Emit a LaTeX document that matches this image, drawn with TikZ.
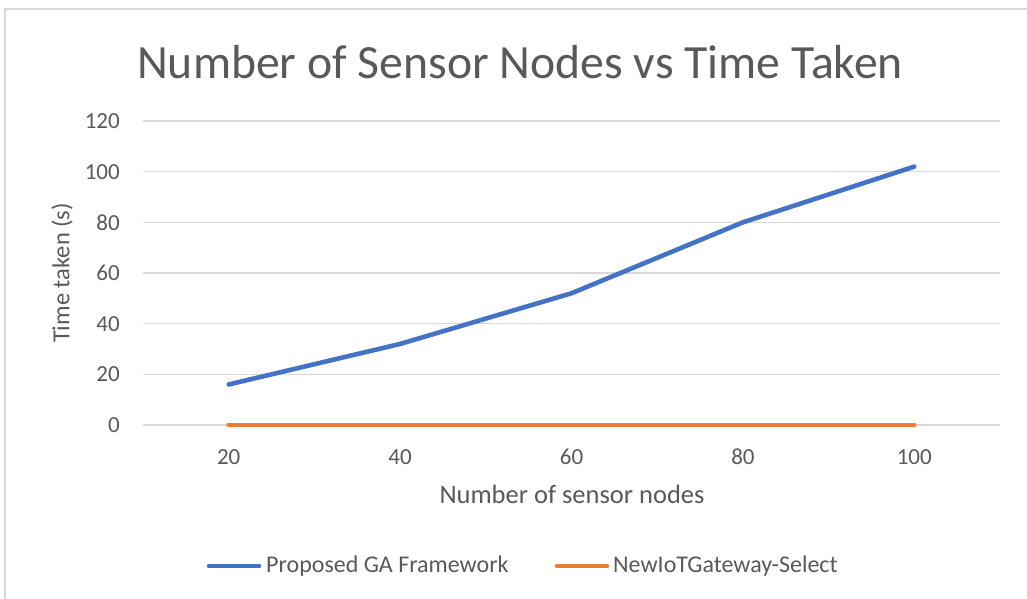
\documentclass[tikz,border=0pt]{standalone}
\usepackage{fontspec}
\setmainfont{Carlito}
\definecolor{txt}{HTML}{595959}
\definecolor{grid}{HTML}{D9D9D9}
\definecolor{blueS}{HTML}{4472C4}
\definecolor{orangeS}{HTML}{ED7D31}
\begin{document}
\begin{tikzpicture}[x=1pt,y=-1pt,
  gridline/.style={draw=grid,line width=1.3pt},
  series/.style={line width=4.6pt,line cap=round,line join=round},
  ticklab/.style={text=txt,font=\fontsize{23}{26}\selectfont,inner sep=0pt},
  axtitle/.style={text=txt,inner sep=0pt},
  leglab/.style={text=txt,font=\fontsize{24}{27}\selectfont,inner sep=0pt,anchor=west}]
\useasboundingbox (0,0) rectangle (1027,599);
\fill[white] (0,0) rectangle (1027,599);
% chart frame
\draw[grid,line width=1.3pt] (5,620) -- (5,9) -- (1040,9);
% title
\node[text=txt,font=\fontsize{47.7}{54}\selectfont,inner sep=0pt] (title) at (520,62) {Number of Sensor Nodes vs Time Taken};
% gridlines and y tick labels
\foreach \v in {0,20,...,120}{
  \pgfmathsetmacro{\yy}{425-2.5333*\v}
  \draw[gridline] (143,\yy) -- (1000,\yy);
  \node[ticklab,anchor=east] (y\v) at (120,\yy) {\v};
}
% x tick labels
\foreach \c/\lab in {0/20,1/40,2/60,3/80,4/100}{
  \pgfmathsetmacro{\xx}{228.7+171.4*\c}
  \node[ticklab] (x\lab) at (\xx,457) {\lab};
}
% series coordinates
\coordinate (b0) at (228.7,{425-2.5333*16});
\coordinate (b1) at (400.1,{425-2.5333*32});
\coordinate (b2) at (571.5,{425-2.5333*52});
\coordinate (b3) at (742.9,{425-2.5333*80});
\coordinate (b4) at (914.3,{425-2.5333*102});
\coordinate (o0) at (228.7,425);
\coordinate (o4) at (914.3,425);
\draw[series,orangeS] (o0) -- (o4);
\draw[series,blueS] (b0) -- (b1) -- (b2) -- (b3) -- (b4);
% axis titles
\node[axtitle,font=\fontsize{26.5}{30}\selectfont] (xtitle) at (572,494) {Number of sensor nodes};
\node[axtitle,font=\fontsize{24.5}{28}\selectfont,rotate=90] (ytitle) at (62,273) {Time taken (s)};
% legend
\coordinate (lb1) at (209,566);
\coordinate (lb2) at (259,566);
\coordinate (lo1) at (557,566);
\coordinate (lo2) at (607,566);
\draw[series,blueS] (lb1) -- (lb2);
\draw[series,orangeS] (lo1) -- (lo2);
\node[leglab] (leg1) at (266,566) {Proposed GA Framework};
\node[leglab] (leg2) at (613,566) {NewIoTGateway-Select};
\end{tikzpicture}
\end{document}
